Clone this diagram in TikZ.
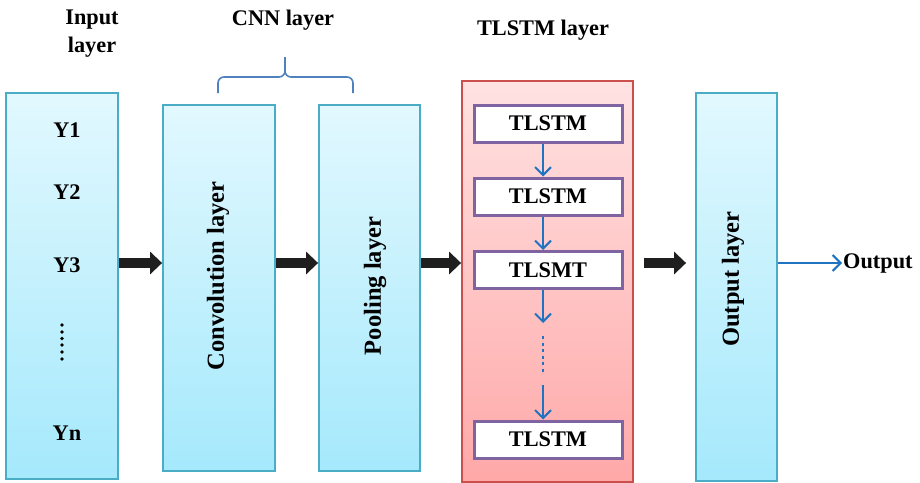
\documentclass[tikz,border=0pt]{standalone}
\usepackage{fontspec}
\setmainfont{Liberation Serif}
\usetikzlibrary{arrows.meta}
\definecolor{bluebd}{HTML}{4BACC6}
\definecolor{bluetop}{HTML}{E2F8FE}
\definecolor{bluebot}{HTML}{A5E9FC}
\definecolor{redbd}{HTML}{C9504D}
\definecolor{redtop}{HTML}{FFE2E2}
\definecolor{redbot}{HTML}{FFA8A8}
\definecolor{purp}{HTML}{8064A2}
\definecolor{arrblue}{HTML}{1F73C0}
\definecolor{bracebl}{HTML}{4F81BD}
\begin{document}
\begin{tikzpicture}[x=1pt,y=-1pt,
  font=\bfseries\fontsize{22.3}{28}\selectfont,
  layerbox/.style={draw=bluebd, line width=1.8pt, top color=bluetop, bottom color=bluebot, inner sep=0pt},
  redbox/.style={draw=redbd, line width=1.8pt, top color=redtop, bottom color=redbot, inner sep=0pt},
  tbox/.style={draw=purp, line width=3pt, fill=white, minimum width=148pt, minimum height=37pt, inner sep=0pt},
  bigarrow/.style={line width=10pt, draw=black!88, -{Triangle[length=12pt,width=22pt]}},
  bluearrow/.style={line width=2pt, draw=arrblue, -{Straight Barb[length=8pt,width=16pt]}},
  bluedots/.style={line width=2.8pt, draw=arrblue, dash pattern=on 3pt off 3.5pt},
  rlabel/.style={inner sep=1pt, rotate=90, font=\bfseries\fontsize{24.5}{28}\selectfont},
  txt/.style={inner sep=1pt}]
\useasboundingbox (0,0) rectangle (920,482);

% layer boxes
\node[layerbox, minimum width=112pt, minimum height=386pt] (in) at (62,286) {};
\node[layerbox, minimum width=112pt, minimum height=366pt] (conv) at (219,288) {};
\node[layerbox, minimum width=101pt, minimum height=366pt] (pool) at (369.5,288) {};
\node[redbox, minimum width=171pt, minimum height=401pt] (tl) at (547.5,281.5) {};
\node[layerbox, minimum width=81pt, minimum height=388pt] (outl) at (736.5,287) {};

% titles
\node[txt, align=center] (tin) at (92,34) {Input\\layer};
\node[txt] (tcnn) at (283,20) {CNN layer};
\node[txt] (ttl) at (543,30) {TLSTM layer};

% brace
\draw[bracebl, line width=1.6pt, rounded corners=6pt] (218,93) -- (218,77) -- (285,77) -- (285,57);
\draw[bracebl, line width=1.6pt, rounded corners=6pt] (353,93) -- (353,77) -- (285,77) -- (285,57);

% input items
\node[txt] (y1) at (67,130) {Y1};
\node[txt] (y2) at (67,192) {Y2};
\node[txt] (y3) at (67,265) {Y3};
\node[txt] (yn) at (67,433) {Yn};
\foreach \yy in {325,332,338.5,345,352,359} \fill (62,\yy) circle (1.9pt);

% rotated labels
\node[rlabel] (lconv) at (218,276) {Convolution layer};
\node[rlabel] (lpool) at (375,286) {Pooling layer};
\node[rlabel] (lout) at (733,279) {Output layer};

% TLSTM cells
\node[tbox] (t1) at (548,123.5) {TLSTM};
\node[tbox] (t2) at (548,196.5) {TLSTM};
\node[tbox] (t3) at (548,270) {TLSMT};
\node[tbox] (t4) at (548,439.5) {TLSTM};
\coordinate (d1) at (543,323);
\coordinate (d2) at (543,385);
\draw[bluearrow] ([xshift=-5pt]t1.south) -- ([xshift=-5pt]t2.north);
\draw[bluearrow] ([xshift=-5pt]t2.south) -- ([xshift=-5pt]t3.north);
\draw[bluearrow] ([xshift=-5pt]t3.south) -- (d1);
\draw[bluedots] (543,336) -- (543,372);
\draw[bluearrow] (d2) -- ([xshift=-5pt]t4.north);

% main flow arrows
\coordinate (m) at (0,263);
\draw[bigarrow] (in.east |- m) -- (conv.west |- m);
\draw[bigarrow] (conv.east |- m) -- (pool.west |- m);
\draw[bigarrow] (pool.east |- m) -- (tl.west |- m);
\draw[bigarrow, shorten <=10pt, shorten >=9pt] (tl.east |- m) -- (outl.west |- m);

% output
\node[txt, anchor=west] (otxt) at (842,263) {Output};
\draw[bluearrow] (outl.east |- m) -- (otxt.west);
\end{tikzpicture}
\end{document}
